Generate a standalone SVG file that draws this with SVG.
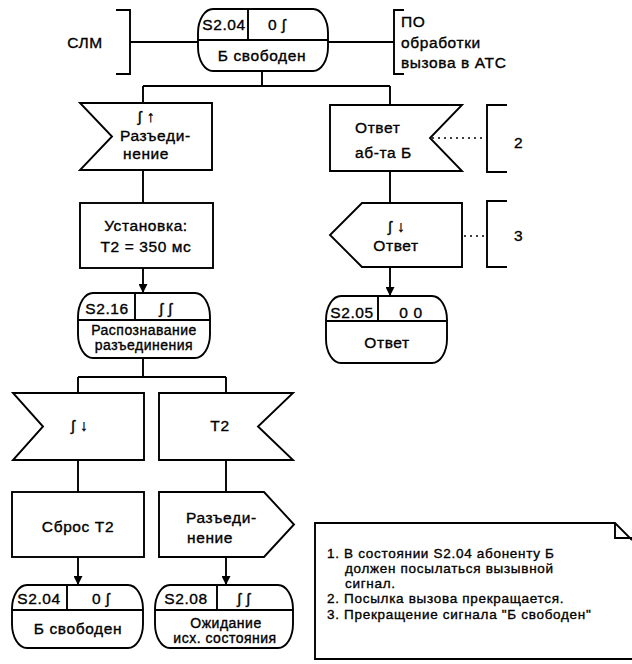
<svg xmlns="http://www.w3.org/2000/svg" width="632" height="664" viewBox="0 0 632 664">
<defs>
<marker id="arr" viewBox="0 0 10 10" refX="10" refY="5" markerWidth="10" markerHeight="9" markerUnits="userSpaceOnUse" orient="auto"><path d="M0,0 L10,5 L0,10 Z" fill="#000"/></marker>
</defs>
<style>
.s{fill:#fff;stroke:#000;stroke-width:1.9;stroke-linejoin:miter}
.l{fill:none;stroke:#000;stroke-width:1.9}
.d{fill:none;stroke:#000;stroke-width:1.6;stroke-dasharray:2 4}
text{font-family:"Liberation Sans",Arial,"DejaVu Sans",sans-serif;font-size:15.5px;letter-spacing:0.6px;fill:#000;stroke:#000;stroke-width:0.35px}
.m{text-anchor:middle}
.n{font-size:13.5px;letter-spacing:0.7px}
.c{font-size:14px;letter-spacing:0.5px}
</style>
<rect width="632" height="664" fill="#fff" stroke="none"/>
<g id="connectors">
<path class="l" d="M130,42 H198 M328,42 H394 M262,71 V86 M143,86 H390 M143,86 V103 M390,86 V105 M143,170 V203 M390,171 V203 M143,358 V377 M78,377 H226 M78,377 V393 M226,377 V393 M78,460 V492 M226,460 V492"/>
<path class="l" d="M143,268 V293" marker-end="url(#arr)"/>
<path class="l" d="M390,267 V296" marker-end="url(#arr)"/>
<path class="l" d="M78,557 V585" marker-end="url(#arr)"/>
<path class="l" d="M226,557 V585" marker-end="url(#arr)"/>
<path class="d" d="M432,138 H487 M464,236 H487"/>
</g>
<g id="slm">
<path class="l" d="M116,10 H130 V74 H116"/>
<text x="85" y="48" class="m">СЛМ</text>
</g>
<g id="po">
<path class="l" d="M404,10 H394 V74 H404"/>
<text x="401" y="27">ПО</text>
<text x="401" y="48">обработки</text>
<text x="401" y="68">вызова в АТС</text>
</g>
<g id="state-s204-top">
<rect class="s" x="198" y="9" width="130" height="62" rx="15" ry="24"/>
<path class="l" d="M198,40 H328 M248,9 V40"/>
<text x="224" y="30" class="m">S2.04</text>
<text x="277" y="30" class="m">0 ʃ</text>
<text x="262" y="61" class="m">Б свободен</text>
</g>
<g id="in-disconnect">
<polygon class="s" points="80,103 212,103 212,170 80,170 112,136.5"/>
<text x="138" y="122">ʃ ↑</text>
<text x="120" y="141">Разъеди-</text>
<text x="123" y="159">нение</text>
</g>
<g id="set-t2">
<rect class="s" x="80" y="203" width="133" height="65"/>
<text x="146" y="231" class="m">Установка:</text>
<text x="146" y="252" class="m">T2 = 350 мс</text>
</g>
<g id="state-s216">
<rect class="s" x="78" y="293" width="132" height="65" rx="15" ry="24"/>
<path class="l" d="M78,320 H210 M135,293 V320"/>
<text x="107" y="314" class="m">S2.16</text>
<text x="166" y="314" class="m">ʃ ʃ</text>
<text x="144" y="335" class="m c">Распознавание</text>
<text x="144" y="350" class="m c">разъединения</text>
</g>
<g id="in-answer-b">
<polygon class="s" points="330,105 462,105 430,138 462,171 330,171"/>
<text x="355" y="133">Ответ</text>
<text x="355" y="158">аб-та Б</text>
</g>
<g id="out-answer">
<polygon class="s" points="362,203 462,203 462,267 362,267 330,235"/>
<text x="397" y="232" class="m">ʃ ↓</text>
<text x="396" y="251" class="m">Ответ</text>
</g>
<g id="state-s205">
<rect class="s" x="326" y="296" width="121" height="67" rx="15" ry="24"/>
<path class="l" d="M326,321 H447 M378,296 V321"/>
<text x="352" y="318" class="m">S2.05</text>
<text x="411" y="318" class="m">0 0</text>
<text x="387" y="348" class="m">Ответ</text>
</g>
<g id="ref2">
<path class="l" d="M507,105 H487 V172 H507"/>
<text x="514" y="148">2</text>
</g>
<g id="ref3">
<path class="l" d="M507,201 H487 V267 H507"/>
<text x="514" y="241">3</text>
</g>
<g id="in-tone-off">
<polygon class="s" points="13,393 144,393 144,460 13,460 43,426.5"/>
<text x="80" y="431" class="m">ʃ ↓</text>
</g>
<g id="in-t2">
<polygon class="s" points="159,393 293,393 258,426.5 293,460 159,460"/>
<text x="220" y="431" class="m">T2</text>
</g>
<g id="reset-t2">
<rect class="s" x="12" y="492" width="132" height="65"/>
<text x="78" y="532" class="m">Сброс T2</text>
</g>
<g id="out-disconnect">
<polygon class="s" points="159,492 264,492 294,524.5 264,557 159,557"/>
<text x="186" y="523">Разъеди-</text>
<text x="187" y="543">нение</text>
</g>
<g id="state-s204-bottom">
<rect class="s" x="12" y="585" width="131" height="63" rx="15" ry="24"/>
<path class="l" d="M12,610 H143 M67,585 V610"/>
<text x="39" y="604" class="m">S2.04</text>
<text x="101" y="604" class="m">0 ʃ</text>
<text x="78" y="634" class="m">Б свободен</text>
</g>
<g id="state-s208">
<rect class="s" x="155" y="585" width="138" height="63" rx="15" ry="24"/>
<path class="l" d="M155,610 H293 M217,585 V610"/>
<text x="186" y="604" class="m">S2.08</text>
<text x="244" y="604" class="m">ʃ ʃ</text>
<text x="226" y="628" class="m c">Ожидание</text>
<text x="225" y="643" class="m c">исх. состояния</text>
</g>
<g id="note">
<path class="s" d="M632,659 H315 V523 H615 L632,540"/>
<path class="l" d="M615,523 V538 H632"/>
<text class="n" x="327" y="558">1. В состоянии S2.04 абоненту Б</text>
<text class="n" x="345" y="573">должен посылаться вызывной</text>
<text class="n" x="345" y="588">сигнал.</text>
<text class="n" x="327" y="603">2. Посылка вызова прекращается.</text>
<text class="n" x="327" y="619">3. Прекращение сигнала "Б свободен"</text>
</g>
</svg>
